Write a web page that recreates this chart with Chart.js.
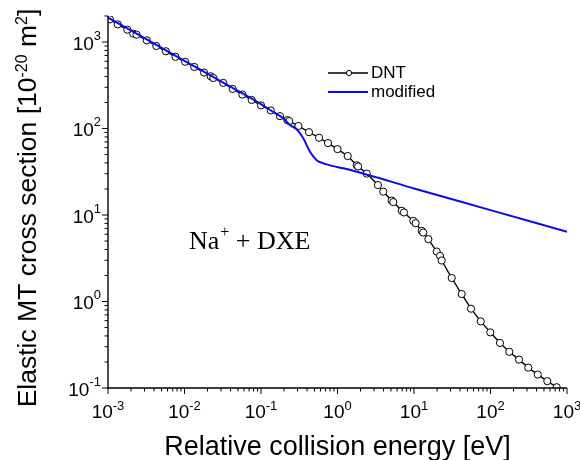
<!DOCTYPE html>
<html>
<head>
<meta charset="utf-8">
<script src="https://cdn.jsdelivr.net/npm/chart.js@4.4.0/dist/chart.umd.min.js"></script>
<style>
  html, body { margin: 0; padding: 0; background: #fff; }
  #wrap { width: 580px; height: 460px; }
</style>
</head>
<body>
<div id="wrap"><canvas id="c" width="580" height="460"></canvas></div>
<script>
  // DNT cross section, energy in eV, sigma in 1e-20 m^2
  const dntEnergy = [
    1.06e-3, 1.34e-3, 1.79e-3, 2.14e-3, 2.36e-3, 3.21e-3, 4.28e-3, 5.70e-3, 7.62e-3,
    1.02e-2, 1.34e-2, 1.80e-2, 2.20e-2, 2.38e-2, 3.21e-2, 4.27e-2, 5.71e-2, 7.55e-2,
    0.100, 0.134, 0.177, 0.221, 0.234, 0.308, 0.424, 0.573, 0.751,
    1.00, 1.36, 1.78, 1.86, 2.41, 3.38, 3.97, 5.11, 5.36, 6.91, 7.40, 9.80,
    10.5, 12.6, 13.2, 15.4, 19.8, 21.9, 23.0, 31.1, 42.0, 55.6, 74.5, 99.4,
    133, 176, 236, 312, 414, 553, 733
  ];
  const dntCross = [
    1830, 1600, 1390, 1250, 1217, 1047, 900, 782, 675,
    591, 515, 444, 402, 384, 337, 287, 247, 214,
    185, 162, 139, 125, 122, 107, 90.8, 78.2, 67.9,
    57.8, 48.1, 37.6, 36.4, 30.1, 22.2, 18.6, 14.7, 14.1, 11.2, 10.7, 8.55,
    8.04, 6.56, 6.27, 5.26, 3.78, 3.37, 2.98, 1.87, 1.22, 0.826, 0.589, 0.440,
    0.332, 0.262, 0.213, 0.172, 0.143, 0.120, 0.102
  ];

  // modified cross section
  const modEnergy = [0.001, 0.003, 0.01, 0.03, 0.1, 0.13, 0.196, 0.239, 0.293, 0.357, 0.437, 0.535, 0.652, 0.85, 1.19, 2.53, 10, 100, 1000];
  const modCross  = [1920, 1110, 607, 350, 192, 165, 131, 110, 98, 77, 54, 43, 39.6, 37, 34.7, 29.0, 20.3, 11.4, 6.4];

  // axis decades (exponents) and minor tick multipliers
  const decadesX = [-3, -2, -1, 0, 1, 2, 3];
  const decadesY = [-1, 0, 1, 2, 3];
  const minorSteps = [2, 3, 4, 5, 6, 7, 8, 9];

  const SANS = '"Liberation Sans", Arial, sans-serif';
  const SERIF = '"Liberation Serif", "Times New Roman", serif';

  function line(ctx, x1, y1, x2, y2) {
    ctx.beginPath(); ctx.moveTo(x1, y1); ctx.lineTo(x2, y2); ctx.stroke();
  }

  // "10" with a raised exponent
  function powLabel(ctx, x, base, exp, align, rise) {
    ctx.font = '19px ' + SANS;
    const w1 = ctx.measureText('10').width;
    ctx.font = '13px ' + SANS;
    const w2 = ctx.measureText(exp).width;
    const total = w1 + w2;
    const left = align === 'center' ? x - total / 2 : x - total;
    ctx.textAlign = 'left';
    ctx.textBaseline = 'alphabetic';
    ctx.font = '19px ' + SANS;
    ctx.fillText('10', left, base);
    ctx.font = '13px ' + SANS;
    ctx.fillText(exp, left + w1, base - rise);
  }

  const axesPlugin = {
    id: 'axesDraw',
    afterDraw(chart) {
      const { ctx, chartArea: a, scales: { x, y } } = chart;
      ctx.save();
      ctx.fillStyle = '#000';
      ctx.strokeStyle = '#000';

      // axis lines
      ctx.lineWidth = 1.4;
      ctx.beginPath();
      ctx.moveTo(a.left, a.top);
      ctx.lineTo(a.left, a.bottom);
      ctx.lineTo(a.right, a.bottom);
      ctx.stroke();

      // x ticks
      ctx.lineWidth = 1;
      decadesX.forEach(d => {
        const px = x.getPixelForValue(Math.pow(10, d));
        line(ctx, px, a.bottom, px, a.bottom + 6);
        if (d < 3) minorSteps.forEach(m => {
          const p = x.getPixelForValue(m * Math.pow(10, d));
          line(ctx, p, a.bottom, p, a.bottom + 3.5);
        });
        powLabel(ctx, px, a.bottom + 30, String(d), 'center', 8);
      });

      // y ticks
      decadesY.forEach(d => {
        const py = y.getPixelForValue(Math.pow(10, d));
        line(ctx, a.left, py, a.left - 6, py);
        minorSteps.forEach(m => {
          const v = m * Math.pow(10, d);
          if (v > y.max) return;
          const p = y.getPixelForValue(v);
          line(ctx, a.left, p, a.left - 3.5, p);
        });
        powLabel(ctx, 101, py + 7.5, String(d), 'right', 10);
      });

      // x title
      ctx.font = '27px ' + SANS;
      ctx.textAlign = 'center';
      ctx.textBaseline = 'alphabetic';
      ctx.fillText('Relative collision energy [eV]', (a.left + a.right) / 2, 455);

      // y title with superscripts, rotated
      ctx.save();
      ctx.translate(36, 208);
      ctx.rotate(-Math.PI / 2);
      const parts = [
        ['Elastic MT cross section [10', 26.5, 0],
        ['-20', 16, 9],
        [' m', 26.5, 0],
        ['2', 16, 9],
        [']', 26.5, 0]
      ];
      let tw = 0;
      parts.forEach(p => { ctx.font = p[1] + 'px ' + SANS; tw += ctx.measureText(p[0]).width; });
      let cx = -tw / 2;
      ctx.textAlign = 'left';
      parts.forEach(p => {
        ctx.font = p[1] + 'px ' + SANS;
        ctx.fillText(p[0], cx, -p[2]);
        cx += ctx.measureText(p[0]).width;
      });
      ctx.restore();

      // legend
      const dnt = chart.data.datasets[0];
      const mod = chart.data.datasets[1];
      ctx.strokeStyle = dnt.borderColor;
      ctx.lineWidth = 1.3;
      line(ctx, 328, 73, 368, 73);
      ctx.beginPath();
      ctx.arc(349, 73, 2.6, 0, Math.PI * 2);
      ctx.fillStyle = '#fff';
      ctx.fill();
      ctx.lineWidth = 1;
      ctx.stroke();
      ctx.strokeStyle = mod.borderColor;
      ctx.lineWidth = 2;
      line(ctx, 328, 92, 368, 92);
      ctx.fillStyle = '#000';
      ctx.font = '17px ' + SANS;
      ctx.textAlign = 'left';
      ctx.textBaseline = 'middle';
      ctx.fillText(dnt.label, 371, 73);
      ctx.fillText(mod.label, 371, 92.5);

      // annotation Na+ + DXE
      ctx.textBaseline = 'alphabetic';
      ctx.font = '26px ' + SERIF;
      ctx.fillText('Na', 189, 249);
      let ax = 189 + ctx.measureText('Na').width + 1;
      ctx.font = '16px ' + SERIF;
      ctx.fillText('+', ax, 237);
      ax += ctx.measureText('+').width;
      ctx.font = '26px ' + SERIF;
      ctx.fillText(' + DXE', ax, 249);

      ctx.restore();
    }
  };

  new Chart(document.getElementById('c'), {
    type: 'line',
    data: {
      datasets: [
        {
          label: 'DNT',
          data: dntEnergy.map((e, i) => ({ x: e, y: dntCross[i] })),
          borderColor: '#000000',
          borderWidth: 1.4,
          pointRadius: 3.6,
          pointBorderWidth: 1,
          pointBackgroundColor: '#ffffff',
          pointBorderColor: '#000000',
          tension: 0,
          order: 2
        },
        {
          label: 'modified',
          data: modEnergy.map((e, i) => ({ x: e, y: modCross[i] })),
          borderColor: '#0a0af0',
          borderWidth: 2,
          pointRadius: 0,
          cubicInterpolationMode: 'monotone',
          order: 1
        }
      ]
    },
    options: {
      responsive: false,
      animation: false,
      devicePixelRatio: 1,
      layout: { padding: { top: 16, right: 13, left: 0, bottom: 0 } },
      plugins: { legend: { display: false }, tooltip: { enabled: false } },
      scales: {
        x: {
          type: 'logarithmic', min: 1e-3, max: 1e3,
          grid: { display: false }, border: { display: false },
          ticks: { display: false },
          afterFit(s) { s.height = 72; }
        },
        y: {
          type: 'logarithmic', min: 0.1, max: 2000,
          grid: { display: false }, border: { display: false },
          ticks: { display: false },
          afterFit(s) { s.width = 108; }
        }
      }
    },
    plugins: [axesPlugin]
  });
</script>
</body>
</html>
